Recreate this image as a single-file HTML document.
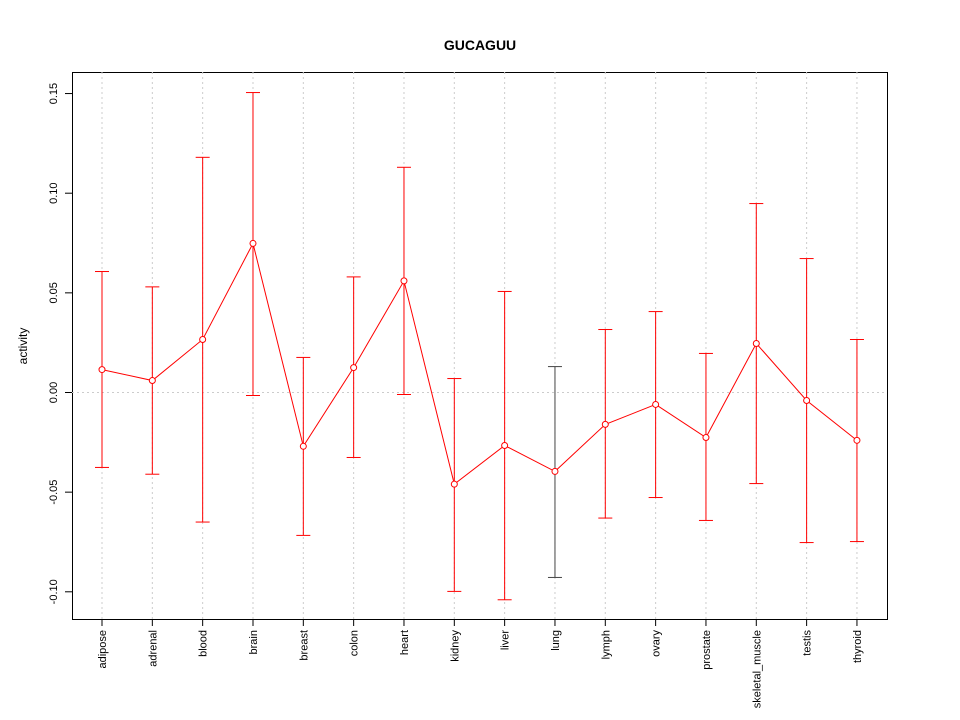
<!DOCTYPE html>
<html><head><meta charset="utf-8"><style>body{margin:0;background:#fff}svg{display:block;font-family:"Liberation Sans",sans-serif}</style></head>
<body>
<svg id="c" width="960" height="720" xmlns="http://www.w3.org/2000/svg">
<text x="480" y="50" text-anchor="middle" font-size="14" font-weight="bold">GUCAGUU</text>
<rect x="72.5" y="72.5" width="815" height="547" fill="none" stroke="#000"/>
<text transform="translate(27,346) rotate(-90)" text-anchor="middle" font-size="12">activity</text>
<g id="g"></g>
</svg>
<script>
const categories=["adipose","adrenal","blood","brain","breast","colon","heart","kidney","liver","lung","lymph","ovary","prostate","skeletal_muscle","testis","thyroid"];
const centers=[0.0115,0.006,0.0266,0.0748,-0.027,0.0125,0.056,-0.046,-0.0266,-0.0396,-0.016,-0.006,-0.0226,0.0246,-0.004,-0.024];
const uppers=[0.0607,0.053,0.118,0.1505,0.0176,0.058,0.113,0.007,0.0507,0.013,0.0316,0.0406,0.0196,0.0948,0.0672,0.0266];
const lowers=[-0.0376,-0.041,-0.065,-0.0015,-0.0717,-0.0326,-0.001,-0.0998,-0.104,-0.0928,-0.063,-0.0527,-0.0642,-0.0457,-0.0753,-0.0748];
const yTicks=[-0.10,-0.05,0.00,0.05,0.10,0.15];
const yTickLabels=["-0.10","-0.05","0.00","0.05","0.10","0.15"];
const y=v=>392.5-v*1993;
const x=i=>102+i*50.33;
const g=document.getElementById('g');
const NS="http://www.w3.org/2000/svg";
function mk(t,a){const e=document.createElementNS(NS,t);for(const k in a)e.setAttribute(k,a[k]);g.appendChild(e);return e;}
categories.forEach((c,i)=>{
  const gl=mk('line',{x1:x(i),x2:x(i),y1:72,y2:619,stroke:'#ccc','stroke-dasharray':'2,3'});
  
  
  const tk=mk('line',{x1:x(i),x2:x(i),y1:619,y2:626,stroke:'#000'});
  
  
  const t=mk('text',{transform:`translate(${x(i)+4},630) rotate(-90)`,'text-anchor':'end','font-size':11});
  t.textContent=c;
  
  
});
const h=mk('line',{x1:72,x2:887,y1:y(0),y2:y(0),stroke:'#ccc','stroke-dasharray':'2,3'});


yTicks.forEach((v,i)=>{
  const tk=mk('line',{x1:65,x2:72,y1:y(v),y2:y(v),stroke:'#000'});
  
  
  const t=mk('text',{transform:`translate(57,${y(v)}) rotate(-90)`,'text-anchor':'middle','font-size':11});
  t.textContent=yTickLabels[i];
  
  
});
categories.forEach((c,i)=>{
  const col=c==='lung'?'#444':'red';
  const b=mk('line',{x1:x(i),x2:x(i),y1:y(uppers[i]),y2:y(lowers[i]),stroke:col});
  
  
  [uppers[i],lowers[i]].forEach(v=>{
    const cp=mk('line',{x1:x(i)-7,x2:x(i)+7,y1:y(v),y2:y(v),stroke:col});
    
    
  });
});
const p=mk('polyline',{points:centers.map((v,i)=>x(i)+','+y(v)).join(' '),fill:'none',stroke:'red'});


centers.forEach((v,i)=>{
  const pt=mk('circle',{cx:x(i),cy:y(v),r:3,fill:'#fff',stroke:'red'});
  
  
});
</script>
</body></html>
